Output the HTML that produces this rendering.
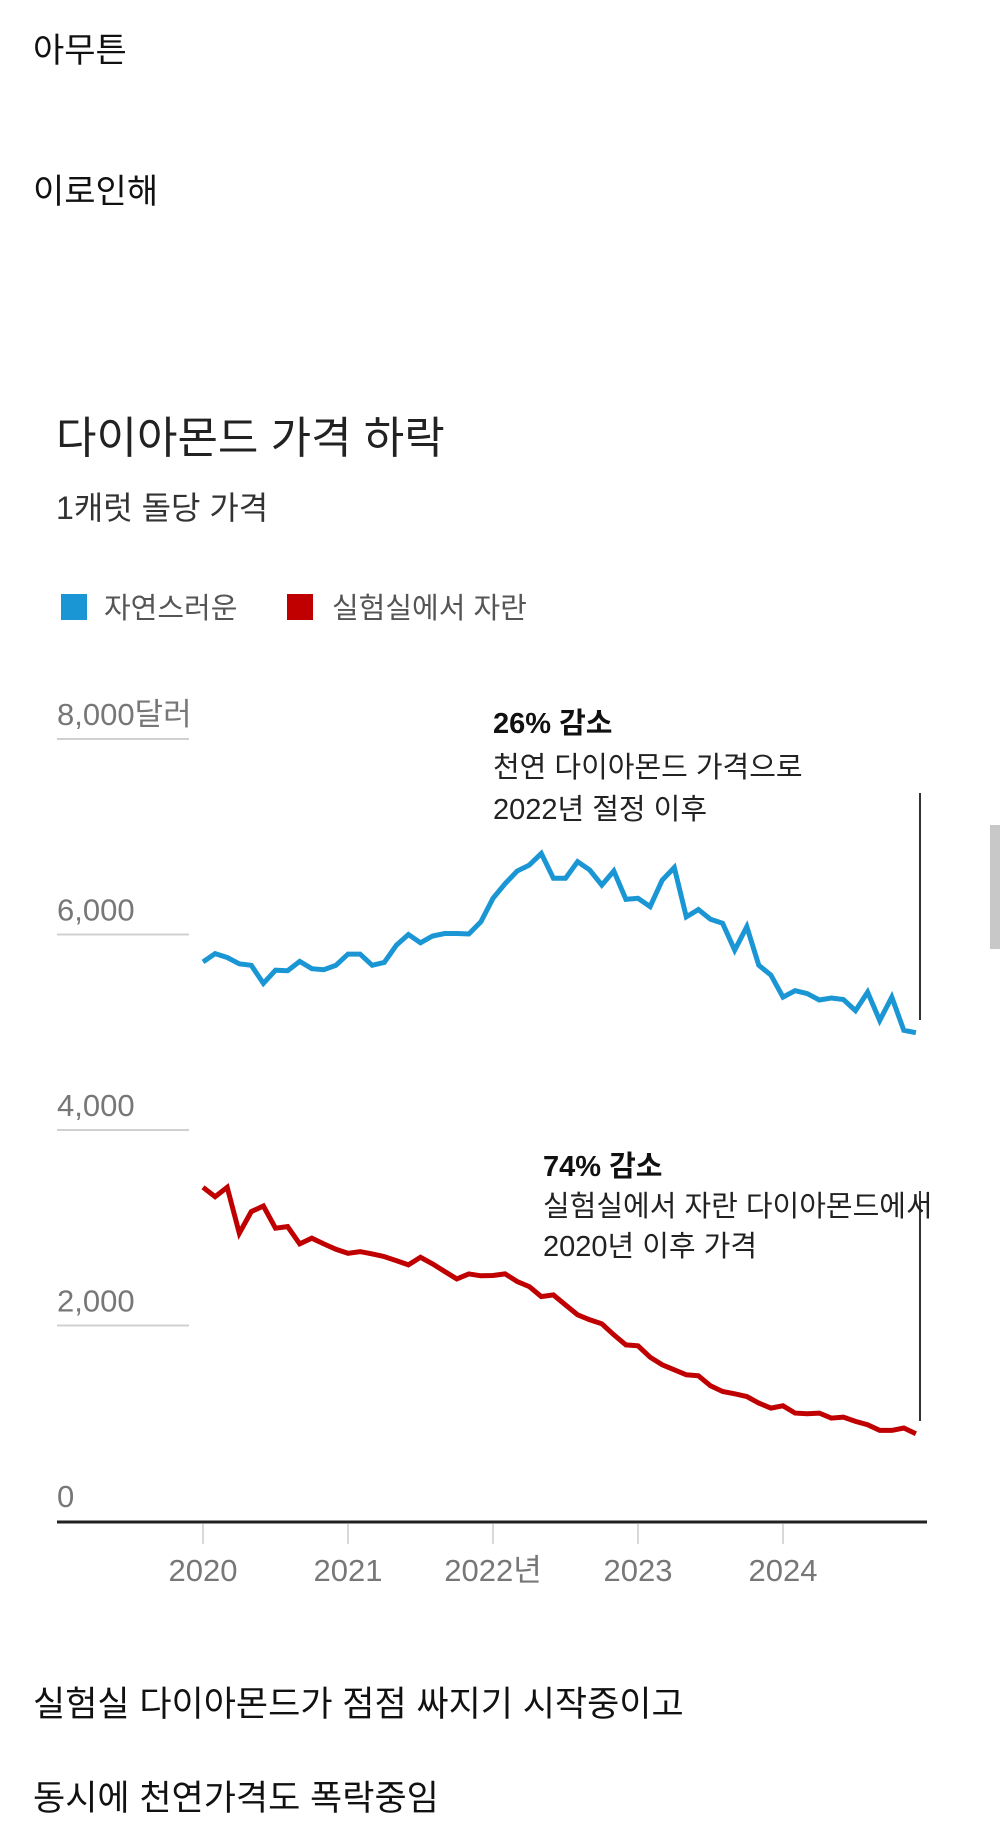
<!DOCTYPE html>
<html><head><meta charset="utf-8"><style>
html,body{margin:0;padding:0;background:#fff;width:1000px;height:1848px;overflow:hidden}
svg{display:block;font-family:"Liberation Sans","Noto Sans CJK KR",sans-serif}
</style></head><body>
<svg id="c" width="1000" height="1848" viewBox="0 0 1000 1848">
<text x="33" y="62" font-size="34" fill="#111">아무튼</text>
<text x="33" y="203" font-size="34" fill="#111">이로인해</text>
<text x="56" y="453" font-size="44" fill="#222">다이아몬드 가격 하락</text>
<text x="56" y="519" font-size="32" fill="#333">1캐럿 돌당 가격</text>
<rect x="61" y="594" width="26" height="26" fill="#1a96d4"/>
<text x="104" y="618" font-size="29" fill="#555">자연스러운</text>
<rect x="287" y="594" width="26" height="26" fill="#c00000"/>
<text x="332" y="618" font-size="29" fill="#555">실험실에서 자란</text>
<g id="grid"></g>
<g id="xaxis"></g>
<g id="series"></g>
<line x1="920" y1="793" x2="920" y2="1020" stroke="#333" stroke-width="2"/>
<text x="493" y="733" font-size="29" font-weight="bold" fill="#111">26% 감소</text>
<text x="493" y="777" font-size="29" fill="#222">천연 다이아몬드 가격으로</text>
<text x="493" y="819" font-size="29" fill="#222">2022년 절정 이후</text>
<line x1="920" y1="1191" x2="920" y2="1421" stroke="#333" stroke-width="2"/>
<text x="543" y="1176" font-size="29" font-weight="bold" fill="#111">74% 감소</text>
<text x="543" y="1216" font-size="29" fill="#222">실험실에서 자란 다이아몬드에서</text>
<text x="543" y="1256" font-size="29" fill="#222">2020년 이후 가격</text>
<rect x="990" y="825" width="10" height="124" fill="#c8c8c8"/>
<text x="33" y="1716" font-size="35" fill="#111">실험실 다이아몬드가 점점 싸지기 시작중이고</text>
<text x="33" y="1810" font-size="35" fill="#111">동시에 천연가격도 폭락중임</text>
</svg>
<script>
const yTicks=[0,2000,4000,6000,8000];
const yTickLabels=["0","2,000","4,000","6,000","8,000달러"];
const xYears=[2020,2021,2022,2023,2024];
const xYearLabels=["2020","2021","2022년","2023","2024"];
const naturalPrices=[5720,5805,5765,5700,5685,5500,5635,5630,5725,5650,5640,5685,5800,5800,5685,5715,5890,6000,5915,5985,6010,6010,6005,6130,6370,6520,6650,6710,6830,6575,6575,6745,6660,6505,6650,6360,6370,6285,6555,6685,6180,6255,6155,6115,5840,6080,5685,5585,5360,5425,5395,5330,5350,5335,5220,5410,5120,5360,5020,4995];
const labPrices=[3414,3318,3414,2944,3165,3223,2995,3012,2835,2893,2835,2780,2739,2756,2732,2705,2664,2620,2698,2630,2552,2477,2528,2508,2511,2528,2450,2398,2296,2313,2211,2109,2058,2017,1905,1802,1792,1676,1598,1547,1496,1485,1383,1325,1301,1274,1206,1155,1179,1104,1097,1104,1053,1063,1019,985,927,927,951,893];
const NS="http://www.w3.org/2000/svg";
function yScale(v){return 1521-v/2000*195.5;}
function xScale(t){return 203+(t-2020)*145;}
function mk(tag,attrs,parent){const e=document.createElementNS(NS,tag);for(const k in attrs)e.setAttribute(k,attrs[k]);parent.appendChild(e);return e;}
const grid=document.getElementById('grid');
yTicks.forEach((v,i)=>{
  const y=yScale(v);
  if(v>0){const l=mk('line',{x1:57,x2:189,y1:y,y2:y,stroke:'#d0d0d0','stroke-width':2},grid);
  
  }
  const t=mk('text',{x:57,y:y-14,'font-size':31,fill:'#777'},grid);
  t.textContent=yTickLabels[i];
  
  
});
const xa=document.getElementById('xaxis');
const ax=mk('line',{x1:57,x2:927,y1:1522,y2:1522,stroke:'#222','stroke-width':3},xa);


xYears.forEach((yr,i)=>{
  const x=xScale(yr);
  const tk=mk('line',{x1:x,x2:x,y1:1524,y2:1544,stroke:'#ccc','stroke-width':1.5},xa);
  
  
  const t=mk('text',{x:x,y:1581,'font-size':31,fill:'#777','text-anchor':'middle'},xa);
  t.textContent=xYearLabels[i];
  
  
});
const sg=document.getElementById('series');
function drawLine(vals,color,name){
  const d=vals.map((v,i)=>(i?'L':'M')+xScale(2020+i/12).toFixed(1)+','+yScale(v).toFixed(1)).join(' ');
  const p=mk('path',{d:d,fill:'none',stroke:color,'stroke-width':5,'stroke-linejoin':'miter'},sg);
  
  
}
drawLine(naturalPrices,'#1a96d4','natural-price-line');
drawLine(labPrices,'#c00000','lab-price-line');
</script>
</body></html>
